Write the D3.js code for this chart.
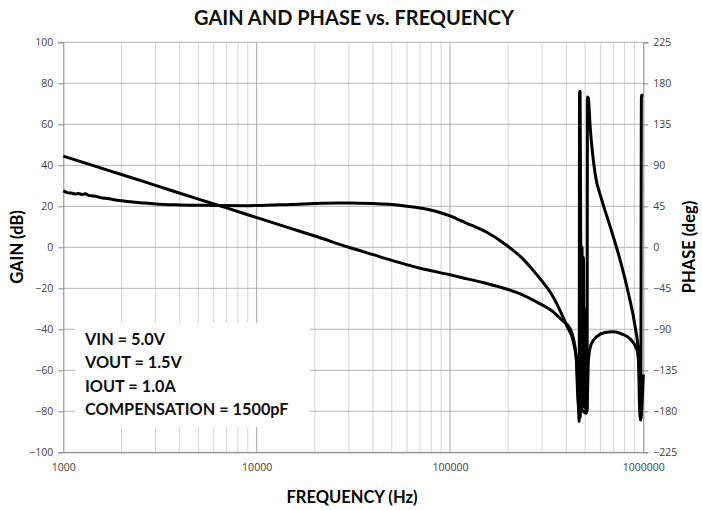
<!DOCTYPE html>
<html>
<head>
<meta charset="utf-8">
<script src="https://cdn.jsdelivr.net/npm/d3@7"></script>
<style>
  body { margin: 0; background: #fff; }
  text { font-family: Lato, "Open Sans", sans-serif; }
</style>
</head>
<body>
<div class="chart"></div>
<script>
// gain (dB)
var gainFreq = [1000, 1500, 2000, 3000, 5000, 7000, 10000, 15000, 20000, 30000, 40000, 50000,
  70000, 100000, 113000, 150000, 200000, 231000, 281000, 343000, 380000, 418000, 435000,
  450000, 457000, 462000, 466000, 469000, 472000, 476000, 479000, 482000, 486000, 490000,
  495000, 500000, 506000, 511000, 515000, 520000, 531000, 548000, 575000, 634000, 700000,
  776000, 853000, 928000, 955000, 968000, 1000000];
var gainDb = [44.5, 39.2, 35.5, 30.2, 23.5, 19.2, 14.5, 9.2, 5.5, 0, -3.6, -6.4,
  -10.2, -13.4, -14.6, -17.3, -20.6, -22.7, -26.7, -31.6, -35.6, -39.7, -44.5,
  -54.3, -70.4, -76.9, -85, -40, -83, -20, -80, 0, -70, -5,
  -78, -30, -81, -79, -70, -55, -49, -45.8, -43.6, -41.6, -41.2,
  -42.3, -44.6, -50.1, -63.1, -84.2, -62];

// phase (deg)
var phaseFreq = [1000, 1050, 1100, 1150, 1200, 1250, 1300, 1350, 1400, 1500, 1600, 1700, 1800,
  2000, 2500, 3000, 4000, 6000, 9000, 15000, 22000, 30000, 40000, 50000, 60000, 75000, 87000,
  104000, 113000, 130000, 155000, 197000, 231000, 281000, 343000, 402000, 435000, 453000, 462000,
  466000, 468000, 471000, 474000, 477000, 481000, 490000, 500000, 508000, 512000, 514000,
  520000, 530000, 542000, 563000, 610000, 674000, 759000, 837000, 907000, 944000, 955000,
  970000, 978000, 1000000];
var phaseDeg = [62, 60, 59.5, 58.5, 59, 58, 58.8, 57, 56.5, 55.5, 54, 53.5, 52.5,
  51, 49, 47.5, 46.5, 46, 45.7, 47, 48.4, 48.6, 48, 47, 45, 42, 38.8,
  33, 29.5, 24, 16.5, 2, -10, -30, -55, -86, -104, -128, -175,
  -183, 171, 171, 40, -100, -178, -180, -182, -178, -180, 165,
  163.6, 135, 110.5, 81, 52, 22.7, -14, -50.4, -87, -116, -171,
  -189, 167, 167];

var gainTicks = d3.range(-100, 101, 20),
phaseTicks = d3.range(-225, 226, 45),
freqTicks = [1000, 10000, 100000, 1000000];

var infoLines = ["VIN = 5.0V", "VOUT = 1.5V", "IOUT = 1.0A", "COMPENSATION = 1500pF"];

var width = 702, height = 510,
plotLeft = 63.3, plotRight = 643.3, plotTop = 42.3, plotBottom = 452.3;

var svg = d3.select(".chart").append("svg")
  .attr("width", width)
  .attr("height", height);

var x = d3.scaleLog().domain([1000, 1000000]).range([plotLeft, plotRight]);
var yGain = d3.scaleLinear().domain([-100, 100]).range([plotBottom, plotTop]);
var yPhase = d3.scaleLinear().domain([-225, 225]).range([plotBottom, plotTop]);

// log grid: 2..9 of each decade
var minorFreq = [];
for (var d = 1000; d < 1000000; d *= 10) {
  for (var k = 2; k < 10; k++) minorFreq.push(d * k);
}

svg.append("g").selectAll("line")
  .data(minorFreq)
  .enter().append("line")
  .attr("x1", function(f){ return x(f); })
  .attr("x2", function(f){ return x(f); })
  .attr("y1", plotTop).attr("y2", plotBottom)
  .attr("stroke", "#d4d4d4").attr("stroke-width", 1);

svg.append("g").selectAll("line")
  .data([10000, 100000])
  .enter().append("line")
  .attr("x1", function(f){ return x(f); })
  .attr("x2", function(f){ return x(f); })
  .attr("y1", plotTop).attr("y2", plotBottom)
  .attr("stroke", "#a8a8a8").attr("stroke-width", 1);

svg.append("g").selectAll("line")
  .data(gainTicks)
  .enter().append("line")
  .attr("x1", plotLeft).attr("x2", plotRight)
  .attr("y1", function(v){ return yGain(v); })
  .attr("y2", function(v){ return yGain(v); })
  .attr("stroke", "#b4b4b4").attr("stroke-width", 1);

// white text box over the grid
svg.append("rect")
  .attr("x", 75).attr("y", 323)
  .attr("width", 235).attr("height", 104)
  .attr("fill", "#fff");

// axes
var axisLeft = svg.append("g")
  .attr("transform", "translate(" + plotLeft + ",0)")
  .call(d3.axisLeft(yGain).tickValues(gainTicks).tickSize(5).tickPadding(5));
var axisRight = svg.append("g")
  .attr("transform", "translate(" + plotRight + ",0)")
  .call(d3.axisRight(yPhase).tickValues(phaseTicks).tickSize(5).tickPadding(5));
var axisBottom = svg.append("g")
  .attr("transform", "translate(0," + plotBottom + ")")
  .call(d3.axisBottom(x).tickValues(freqTicks).tickSize(0).tickPadding(11)
    .tickFormat(d3.format("d")));

[axisLeft, axisRight, axisBottom].forEach(function(g){
  g.select(".domain").attr("stroke", "#878787");
  g.selectAll(".tick line").attr("stroke", "#878787");
  g.selectAll(".tick text")
    .attr("fill", "#404040")
    .style("font-family", "'Open Sans', sans-serif")
    .style("font-size", "10.5px");
});

// curves
var gainLine = d3.line()
  .curve(d3.curveMonotoneX)
  .x(function(d){ return x(d[0]); })
  .y(function(d){ return yGain(d[1]); });
var phaseLine = d3.line()
  .curve(d3.curveMonotoneX)
  .x(function(d){ return x(d[0]); })
  .y(function(d){ return yPhase(d[1]); });

svg.append("path")
  .datum(d3.zip(phaseFreq, phaseDeg))
  .attr("d", phaseLine)
  .attr("fill", "none").attr("stroke", "#000")
  .attr("stroke-width", 3).attr("stroke-linejoin", "round");

svg.append("path")
  .datum(d3.zip(gainFreq, gainDb))
  .attr("d", gainLine)
  .attr("fill", "none").attr("stroke", "#000")
  .attr("stroke-width", 3).attr("stroke-linejoin", "round");

// texts
svg.append("text")
  .attr("x", 354).attr("y", 25)
  .attr("text-anchor", "middle")
  .style("font-size", "20px").style("font-weight", "bold")
  .attr("fill", "#111")
  .text("GAIN AND PHASE vs. FREQUENCY");

svg.append("text")
  .attr("transform", "translate(23,247) rotate(-90)")
  .attr("text-anchor", "middle")
  .style("font-size", "16.5px").style("font-weight", "bold")
  .text("GAIN (dB)");

svg.append("text")
  .attr("transform", "translate(695,247) rotate(-90)")
  .attr("text-anchor", "middle")
  .style("font-size", "16.5px").style("font-weight", "bold")
  .text("PHASE (deg)");

svg.append("text")
  .attr("x", 352).attr("y", 503)
  .attr("text-anchor", "middle")
  .style("font-size", "16.5px").style("font-weight", "bold")
  .text("FREQUENCY (Hz)");

svg.append("g").selectAll("text")
  .data(infoLines)
  .enter().append("text")
  .attr("x", 85)
  .attr("y", function(d, i){ return 345 + i * 23.4; })
  .style("font-size", "16.3px").style("font-weight", "bold")
  .attr("fill", "#111")
  .text(function(d){ return d; });
</script>
</body>
</html>
